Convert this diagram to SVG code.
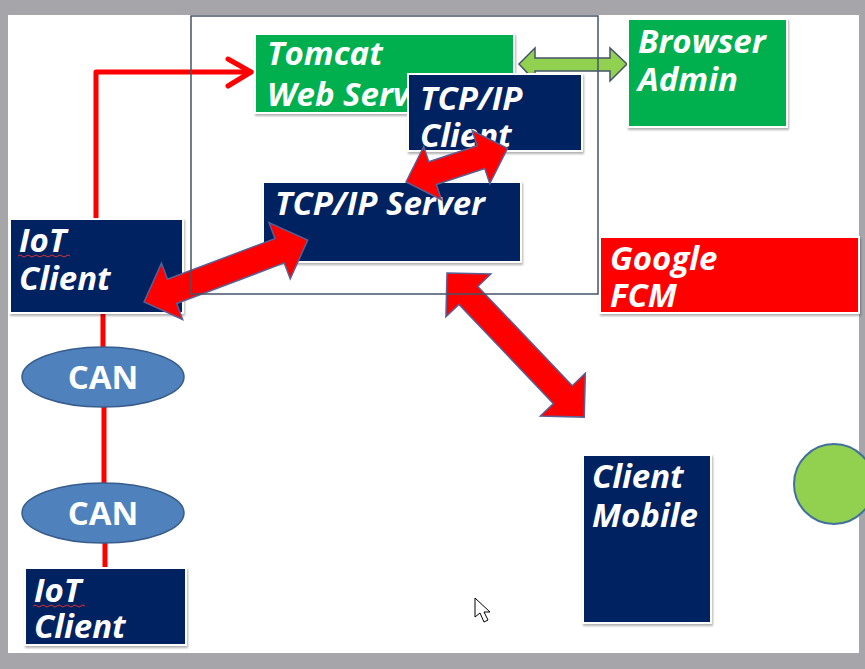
<svg xmlns="http://www.w3.org/2000/svg" width="865" height="669" viewBox="0 0 865 669">
<defs>
<style>
.t{font-family:"Open Sans","Noto Sans","DejaVu Sans",sans-serif;font-weight:bold;font-style:italic;font-size:33px;fill:#ffffff}
.can{font-family:"Open Sans","Noto Sans","DejaVu Sans",sans-serif;font-weight:bold;font-size:33px;fill:#ffffff;text-anchor:middle}
.box{stroke:#ffffff;stroke-width:2;filter:url(#sh)}
.navy{fill:#002060}
.green{fill:#00b050}
.red{fill:#ff0000}
.redline{stroke:#ff0000;stroke-width:5;fill:none;stroke-linecap:round;stroke-linejoin:round}
.blk{fill:#ff0000;stroke:#5a5f94;stroke-width:1.5;stroke-linejoin:miter}
.ell{fill:#4f81bd;stroke:#385d8a;stroke-width:1.5}
.sq{fill:none;stroke:#e03030;stroke-width:1}
</style>
<filter id="sh" x="-10%" y="-10%" width="120%" height="125%">
<feDropShadow dx="1" dy="2" stdDeviation="1.2" flood-color="#000000" flood-opacity="0.3"/>
</filter>
<clipPath id="tomclip">
<rect x="255" y="34" width="153" height="79"/>
<rect x="408" y="34" width="106" height="40"/>
</clipPath>
</defs>
<rect x="0" y="0" width="865" height="669" fill="#a6a6aa"/>
<rect x="8" y="15" width="851" height="638" fill="#ffffff"/>

<g id="connectors">
<polyline class="redline" points="96,219 96,72 251,72"/>
<polyline class="redline" points="228,59 251,72 228,86"/>
<line class="redline" x1="103" y1="313" x2="103" y2="346"/>
<line class="redline" x1="104" y1="407" x2="104" y2="483"/>
<line class="redline" x1="105" y1="543" x2="105" y2="568"/>
<polygon fill="#92d050" stroke="#44546a" stroke-width="1.5" points="519,64 535,48 535,58 610,58 610,48 627,64 610,81 610,71 535,71 535,81"/>
</g>

<g id="tomcat">
<rect class="box green" x="255" y="34" width="259" height="79"/>
<g clip-path="url(#tomclip)">
<text class="t" x="267" y="65">Tomcat</text>
<text class="t" x="267" y="106">Web Server</text>
</g>
</g>
<g id="browser">
<rect class="box green" x="628" y="19" width="159" height="108"/>
<text class="t" x="638" y="53">Browser</text>
<text class="t" x="638" y="91">Admin</text>
</g>
<g id="tcpip-client">
<rect class="box navy" x="408" y="74" width="174" height="77"/>
<text class="t" x="420" y="110">TCP/IP</text>
<text class="t" x="420" y="147">Client</text>
</g>
<g id="tcpip-server">
<rect class="box navy" x="263" y="182" width="258" height="80"/>
<text class="t" x="275" y="215">TCP/IP Server</text>
</g>
<g id="google-fcm">
<rect class="box red" x="600" y="237" width="259" height="76"/>
<text class="t" x="610" y="270">Google</text>
<text class="t" x="610" y="307">FCM</text>
</g>
<g id="iot-client-1">
<rect class="box navy" x="10" y="219" width="173" height="94"/>
<text class="t" x="19" y="252">IoT</text>
<text class="t" x="19" y="290">Client</text>
<path class="sq" d="M18,256 q2,-2 4,0 t4,0 t4,0 t4,0 t4,0 t4,0 t4,0 t4,0 t4,0 t4,0 t4,0 t4,0 t4,0"/>
</g>
<g id="can-1">
<ellipse class="ell" cx="103" cy="377" rx="81" ry="30"/>
<text class="can" x="103" y="389">CAN</text>
</g>
<g id="can-2">
<ellipse class="ell" cx="103" cy="513" rx="81" ry="30"/>
<text class="can" x="103" y="525">CAN</text>
</g>
<g id="iot-client-2">
<rect class="box navy" x="25" y="568" width="161" height="77"/>
<text class="t" x="34" y="602">IoT</text>
<text class="t" x="34" y="638">Client</text>
<path class="sq" d="M33,606 q2,-2 4,0 t4,0 t4,0 t4,0 t4,0 t4,0 t4,0 t4,0 t4,0 t4,0 t4,0 t4,0 t4,0"/>
</g>
<g id="client-mobile">
<rect class="box navy" x="583" y="455" width="128" height="168"/>
<text class="t" x="592" y="488">Client</text>
<text class="t" x="592" y="527">Mobile</text>
</g>

<g id="block-arrows">
<polygon class="blk" transform="translate(144,302) rotate(-20.7)" points="0,0 30,-30 30,-13 145,-13 145,-30 175,0 145,30 145,13 30,13 30,30"/>
<polygon class="blk" transform="translate(406,182) rotate(-18.4)" points="0,0 28,-28 28,-12 79,-12 79,-28 107,0 79,28 79,12 28,12 28,28"/>
<polygon class="blk" transform="translate(447,273) rotate(46.4)" points="0,0 31,-31 31,-13 168,-13 168,-31 199,0 168,31 168,13 31,13 31,31"/>
</g>

<g id="container">
<rect x="191" y="16" width="407" height="278" fill="none" stroke="#44546a" stroke-width="1.5"/>
</g>

<g id="circle">
<circle cx="834" cy="484" r="40" fill="#92d050" stroke="#41719c" stroke-width="2"/>
</g>

<g id="cursor">
<polygon points="475,598 475,617 480,613 484,622 488,620 484,612 490,612" fill="#ffffff" stroke="#000000" stroke-width="1" stroke-linejoin="round"/>
</g>
</svg>
